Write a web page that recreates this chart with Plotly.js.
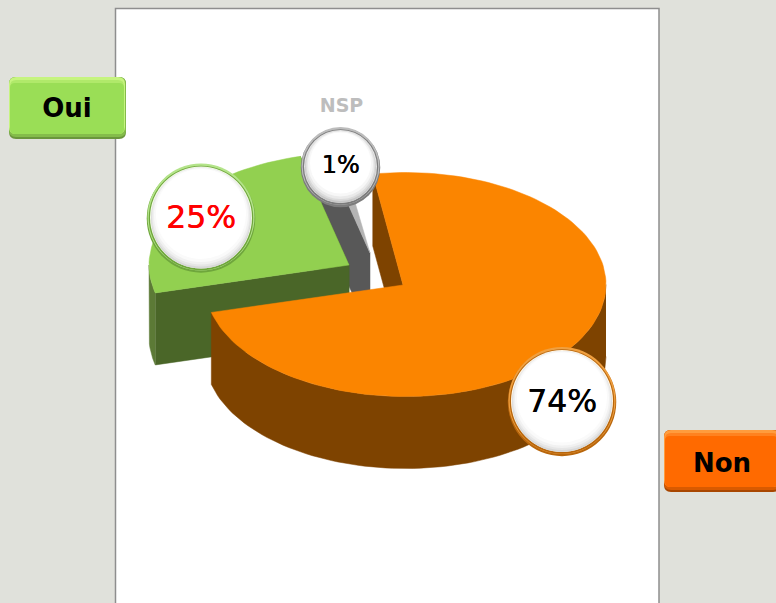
<!DOCTYPE html>
<html><head><meta charset="utf-8">
<script src="https://cdn.plot.ly/plotly-3.0.1.min.js"></script>
<style>html,body{margin:0;padding:0;background:#E0E1DB;overflow:hidden}</style>
</head><body><div id="chart" style="width:776px;height:603px"></div>
<script>
// Data
const categories = ['Non', 'Oui', 'NSP'];
const values = [73.6, 25.1, 1.3];
const labelColors = ['#000000', '#FF0000', '#000000'];

// Projected-pie styling
const startAngle = -9.4;
const centers = [[405.5, 284.5], [349, 265], [370, 253]];
const apexes = [[403, 285], [349, 265], [370, 253]];
const radii = [[200.5, 112], [200, 112], [200, 112]];
const depths = [72, 72, 80];
const topColors = ['#FB8500', '#92D050', '#B4B4B4'];
const sideColors = ['#7E4300', '#4A6628', '#585858'];
const bubbles = [[562, 401.5, 54.5], [201, 218, 54.5], [340.5, 167, 40]];
const ringDark = ['#B8660C', '#6FA63C', '#7C7C7C'];
const ringLight = ['#F0A040', '#B4E48A', '#BDBDBD'];
const labelSizes = [31.5, 31.5, 24];
const labelDy = [2.5, 2.5, -0.5];

const total = values.reduce((a, b) => a + b, 0);
const spans = []; let acc = startAngle;
values.forEach(v => { const a = acc, b = acc + v / total * 360; spans.push([a, b]); acc = b; });

function rim(i, t, d) {
  const r = t * Math.PI / 180;
  return [centers[i][0] + radii[i][0] * Math.sin(r), centers[i][1] - radii[i][1] * Math.cos(r) + (d || 0)];
}
function arc(i, a, b, d) {
  const out = [], n = Math.max(2, Math.ceil(Math.abs(b - a) / 2));
  for (let k = 0; k <= n; k++) out.push(rim(i, a + (b - a) * k / n, d));
  return out;
}
function poly(pts, color) {
  return { type: 'scatter', mode: 'lines', x: pts.map(p => p[0]), y: pts.map(p => p[1]),
    fill: 'toself', fillcolor: color, line: { width: 0.5, color: color }, hoverinfo: 'skip', showlegend: false };
}
const apex = (i, d) => [apexes[i][0], apexes[i][1] + (d || 0)];
function topFace(i) { return poly([apex(i)].concat(arc(i, spans[i][0], spans[i][1])).concat([apex(i)]), topColors[i]); }
function cutFace(i, t) { return poly([apex(i), rim(i, t), rim(i, t, depths[i]), apex(i, depths[i]), apex(i)], sideColors[i]); }
function wall(i, a, b, color) { return poly(arc(i, a, b).concat(arc(i, b, a, depths[i])), color); }

const data = [];
// NSP
data.push(cutFace(2, spans[2][0]));
data.push(topFace(2));
// Oui
data.push(cutFace(1, spans[1][1]));
data.push(cutFace(1, spans[1][0]));
data.push(wall(1, spans[1][0], 270, '#5C7A36'));
data.push(topFace(1));
// Non
data.push(cutFace(0, spans[0][0]));
data.push(wall(0, 90, spans[0][1], sideColors[0]));
data.push(topFace(0));

// Bubbles
function disc(xs, ys, sizes, colors) {
  return { type: 'scatter', mode: 'markers', x: xs, y: ys, hoverinfo: 'skip', showlegend: false,
    marker: { size: sizes, color: colors, line: { width: 0 }, opacity: 1 } };
}
const bx = bubbles.map(b => b[0]), by = bubbles.map(b => b[1]), bd = bubbles.map(b => 2 * b[2]);
data.push(disc(bx, by.map(y => y + 0.5), bd.map(d => d - 0.5), ringDark));
data.push(disc(bx, by.map(y => y - 1), bd.map(d => d - 2), ringLight));
data.push(disc(bx, by, bd.map(d => d - 4.5), ringDark));
data.push(disc(bx, by.map(y => y - 0.5), bd.map(d => d - 7), ['#FFF6E6', '#F2FAE6', '#E4E4E4']));
data.push(disc(bx, by.map(y => y + 0.5), bd.map(d => d - 9), ['#D8D8D8', '#D8D8D8', '#C8C8C8']));
data.push(disc(bx, by.map(y => y - 1), bd.map(d => d - 10), ['#E6E6E6', '#E6E6E6', '#DADADA']));
data.push(disc(bx, by.map(y => y - 2), bd.map(d => d - 12), ['#F1F1F1', '#F1F1F1', '#EAEAEA']));
data.push(disc(bx, by.map(y => y - 3), bd.map(d => d - 15), ['#FAFAFA', '#FAFAFA', '#F7F7F7']));
data.push(disc(bx, by.map(y => y - 4), bd.map(d => d - 19), ['#FFFFFF', '#FFFFFF', '#FFFFFF']));

// Percent labels
data.push({ type: 'scatter', mode: 'text', hoverinfo: 'skip', showlegend: false,
  x: bx, y: by.map((y, i) => y + labelDy[i]), text: values.map(v => Math.round(v) + '%'), textposition: 'middle center',
  textfont: { family: 'DejaVu Sans', size: labelSizes, color: labelColors,
    shadow: ['0.5px 0 0 #000000', '0.5px 0 0 #FF0000', '0.5px 0 0 #000000'] } });

// Legend-like labels
const buttonBoxes = [[664, 430, 780, 492], [9, 77, 126, 139]];
const buttonBody = ['#FF6A00', '#9ADE56'];
const buttonTop = ['#FF9C3D', '#C6F47F'];
const buttonMid = ['#FF8220', '#B0E96A'];
const buttonEdge = ['#D95A00', '#84BC4A'];
const buttonBottom = ['#A84600', '#6A963C'];

function rr(x0, y0, x1, y1, r) {
  return `M${x0 + r},${y0} L${x1 - r},${y0} Q${x1},${y0} ${x1},${y0 + r} L${x1},${y1 - r} Q${x1},${y1} ${x1 - r},${y1} L${x0 + r},${y1} Q${x0},${y1} ${x0},${y1 - r} L${x0},${y0 + r} Q${x0},${y0} ${x0 + r},${y0} Z`;
}
const shapes = [{ type: 'rect', layer: 'below', x0: 115.5, x1: 659, y0: 8.5, y1: 640,
  fillcolor: '#FFFFFF', line: { color: '#8E8E8E', width: 1.5 } }];
buttonBoxes.forEach((b, i) => {
  const s = (path, color) => shapes.push({ type: 'path', layer: 'below', path, fillcolor: color, line: { width: 0 } });
  s(rr(b[0], b[1], b[2], b[3], 7), buttonBottom[i]);
  s(rr(b[0], b[1], b[2], b[3] - 2, 7), buttonEdge[i]);
  s(rr(b[0], b[1], b[2] - 1, b[3] - 5, 7), buttonTop[i]);
  s(rr(b[0] + 1, b[1] + 3, b[2] - 2, b[3] - 5, 6), buttonMid[i]);
  s(rr(b[0] + 1, b[1] + 6, b[2] - 2, b[3] - 5, 5), buttonBody[i]);
});

data.push({ type: 'scatter', mode: 'text', hoverinfo: 'skip', showlegend: false,
  x: [722, 67], y: [465, 110], text: categories.slice(0, 2), textposition: 'middle center',
  textfont: { family: 'DejaVu Sans', size: 26, color: '#000000', weight: 700 } });
data.push({ type: 'scatter', mode: 'text', hoverinfo: 'skip', showlegend: false,
  x: [341.5], y: [107], text: [categories[2]], textposition: 'middle center',
  textfont: { family: 'DejaVu Sans', size: 19, color: '#BDBDBD', weight: 700 } });

const layout = {
  width: 776, height: 603, margin: { l: 0, r: 0, t: 0, b: 0 },
  paper_bgcolor: '#E0E1DB', plot_bgcolor: 'rgba(0,0,0,0)', showlegend: false,
  xaxis: { range: [0, 776], visible: false, fixedrange: true },
  yaxis: { range: [603, 0], visible: false, fixedrange: true },
  shapes
};
Plotly.newPlot('chart', data, layout, { displayModeBar: false, staticPlot: true });
</script></body></html>
